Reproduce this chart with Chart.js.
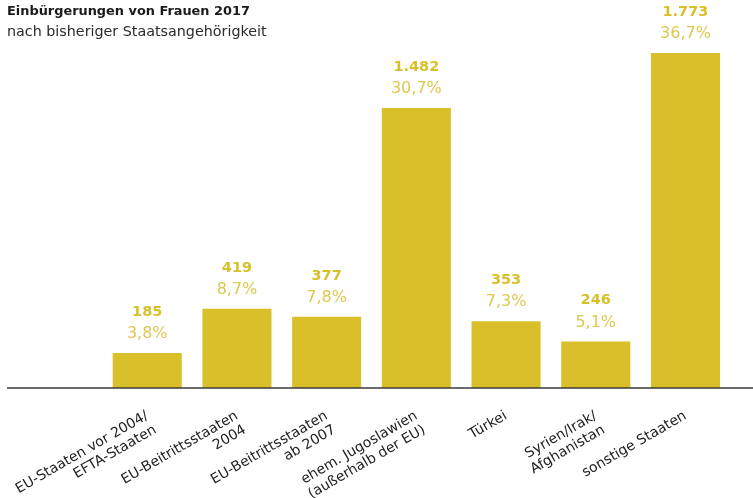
<!DOCTYPE html>
<html>
<head>
<meta charset="utf-8">
<script src="https://cdn.jsdelivr.net/npm/chart.js@4.4.1/dist/chart.umd.min.js"></script>
<style>
  html, body { margin: 0; padding: 0; background: #ffffff; }
  #wrap { width: 753px; height: 498px; position: relative; }
</style>
</head>
<body>
<div id="wrap"><canvas id="c"></canvas></div>
<script>
const titleText = 'Einbürgerungen von Frauen 2017';
const subtitleText = 'nach bisheriger Staatsangehörigkeit';
const categories = [
  '',
  ['EU-Staaten vor 2004/', 'EFTA-Staaten'],
  ['EU-Beitrittsstaaten', '2004'],
  ['EU-Beitrittsstaaten', 'ab 2007'],
  ['ehem. Jugoslawien', '(außerhalb der EU)'],
  'Türkei',
  ['Syrien/Irak/', 'Afghanistan'],
  'sonstige Staaten'
];
const counts = [null, 185, 419, 377, 1482, 353, 246, 1773];
const shares = [null, 3.8, 8.7, 7.8, 30.7, 7.3, 5.1, 36.7];

const GOLD = '#d9c02b';

function fmtCount(v) {
  return String(v).replace(/\B(?=(\d{3})+(?!\d))/g, '.');
}
function fmtShare(v) {
  return v.toFixed(1).replace('.', ',') + '%';
}

const decor = {
  id: 'decor',
  afterDraw(chart) {
    const ctx = chart.ctx;
    const y0 = chart.scales.y.getPixelForValue(0);
    ctx.save();
    // baseline
    ctx.strokeStyle = '#3a3a3a';
    ctx.lineWidth = 1.6;
    ctx.beginPath();
    ctx.moveTo(7, y0);
    ctx.lineTo(753, y0);
    ctx.stroke();
    // titles
    ctx.textAlign = 'left';
    ctx.textBaseline = 'middle';
    ctx.fillStyle = '#1a1a1a';
    ctx.font = 'bold 12.9px "DejaVu Sans"';
    ctx.fillText(titleText, 7, 12);
    ctx.fillStyle = '#2a2a2a';
    ctx.font = '14.3px "DejaVu Sans"';
    ctx.fillText(subtitleText, 7, 32);
    // value labels
    const meta = chart.getDatasetMeta(0);
    ctx.textAlign = 'center';
    meta.data.forEach((bar, i) => {
      if (counts[i] == null) return;
      ctx.fillStyle = GOLD;
      ctx.font = 'bold 14.5px "DejaVu Sans"';
      ctx.fillText(fmtCount(counts[i]), bar.x, bar.y - 41);
      ctx.fillStyle = '#ddc850';
      ctx.font = '16px "DejaVu Sans"';
      ctx.fillText(fmtShare(shares[i]), bar.x, bar.y - 19);
    });
    ctx.restore();
  }
};

new Chart(document.getElementById('c'), {
  type: 'bar',
  data: {
    labels: categories,
    datasets: [{
      data: counts,
      backgroundColor: GOLD,
      borderWidth: 0,
      barPercentage: 0.77,
      categoryPercentage: 1.0
    }]
  },
  options: {
    responsive: true,
    maintainAspectRatio: false,
    animation: false,
    devicePixelRatio: 1,
    layout: { padding: { left: 7, right: 22.7, top: 10, bottom: 0 } },
    plugins: {
      legend: { display: false },
      tooltip: { enabled: false },
      title: { display: false }
    },
    scales: {
      x: {
        offset: true,
        grid: { display: false, drawTicks: false },
        border: { display: false },
        ticks: {
          autoSkip: false,
          maxRotation: 30,
          minRotation: 30,
          padding: 20,
          color: '#222222',
          font: { family: 'DejaVu Sans', size: 14, lineHeight: 1.15 }
        },
        afterFit(s) { s.height = 110; }
      },
      y: {
        display: true,
        min: 0,
        max: 2000,
        grid: { display: false, drawTicks: false },
        border: { display: false },
        ticks: { display: false },
        afterFit(s) { s.width = 5.7; }
      }
    }
  },
  plugins: [decor]
});
</script>
</body>
</html>
